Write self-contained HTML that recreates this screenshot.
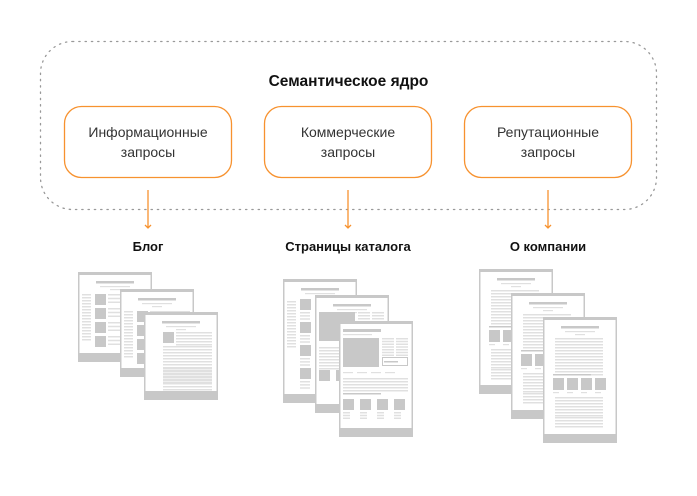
<!DOCTYPE html>
<html><head><meta charset="utf-8"><style>
html,body{margin:0;padding:0;background:#fff;}
body{width:697px;height:491px;overflow:hidden;}
text{font-family:"Liberation Sans",sans-serif;}
</style></head><body>
<svg id="s" width="697" height="491" xmlns="http://www.w3.org/2000/svg">
<rect x="40.5" y="41.5" width="616" height="168" rx="32" fill="none" stroke="#999" stroke-width="1.3" stroke-dasharray="1.3 5" stroke-linecap="round"/>
<text x="348.5" y="86" text-anchor="middle" font-size="15.5" font-weight="bold" fill="#111">Семантическое ядро</text>
<g fill="#fff" stroke="#f7922f" stroke-width="1.3">
<rect x="64.5" y="106.5" width="167" height="71" rx="17"/>
<rect x="264.5" y="106.5" width="167" height="71" rx="17"/>
<rect x="464.5" y="106.5" width="167" height="71" rx="17"/>
</g>
<g font-size="14" fill="#333" text-anchor="middle">
<text x="148" y="137">Информационные</text><text x="148" y="157">запросы</text>
<text x="348" y="137">Коммерческие</text><text x="348" y="157">запросы</text>
<text x="548" y="137">Репутационные</text><text x="548" y="157">запросы</text>
</g>
<g stroke="#f7922f" stroke-width="1.3" fill="none">
<path d="M148 190V228M145 225L148 228L151 225"/>
<path d="M348 190V228M345 225L348 228L351 225"/>
<path d="M548 190V228M545 225L548 228L551 225"/>
</g>
<g font-size="13" font-weight="bold" fill="#111" text-anchor="middle">
<text x="148" y="251">Блог</text>
<text x="348" y="251">Страницы каталога</text>
<text x="548" y="251">О компании</text>
</g>
<g id="pages"></g>
</svg>
<script>
var g=document.getElementById('pages'),h='';
var G='#c8c8c8',L='#e0e0e0';
function R(x,y,w,hh,c){h+='<rect x="'+x+'" y="'+y+'" width="'+w+'" height="'+hh+'" fill="'+c+'"/>';}
function lines(x,y,w,n,step){step=step*1.25;for(var i=0;i<n*0.8;i++)R(x,y+i*step,w,1.5,L);}
function frame(x,y,w,hh){h+='<rect x="'+(x+0.75)+'" y="'+(y+0.75)+'" width="'+(w-1.5)+'" height="'+(hh-1.5)+'" fill="#fff" stroke="'+G+'" stroke-width="1.5"/>';R(x,y,w,3,G);R(x,y+hh-9,w,9,G);
 R(x+18,y+9,38,2.5,G);R(x+22,y+14,30,1.2,L);R(x+32,y+17,10,1.2,L);}
function blogList(x,y,w,hh){frame(x,y,w,hh);lines(x+4,y+22,9,20,2.4);for(var i=0;i<4;i++){R(x+17,y+22+i*14,11,11,G);lines(x+30,y+22+i*14,40,3,3);}}
function blogPost(x,y,w,hh){frame(x,y,w,hh);R(x+19,y+20,11,11,G);lines(x+32,y+20,36,6,2.4);lines(x+19,y+34,49,16,2.4);lines(x+19,y+56,49,10,2.4);}
function cat1(x,y,w,hh){frame(x,y,w,hh);lines(x+4,y+22,9,20,2.4);for(var i=0;i<4;i++){R(x+17,y+20+i*23,11,11,G);lines(x+17,y+33+i*23,10,3,2.5);}}
function cat2(x,y,w,hh){frame(x,y,w,hh);R(x+4,y+17,36,29,G);lines(x+43,y+17,12,6,2.4);lines(x+57,y+17,12,6,2.4);lines(x+4,y+52,60,10,2.4);R(x+4,y+75,11,11,G);R(x+21,y+75,11,11,G);}
function cat3(x,y,w,hh){h+='<rect x="'+(x+0.75)+'" y="'+(y+0.75)+'" width="'+(w-1.5)+'" height="'+(hh-1.5)+'" fill="#fff" stroke="'+G+'" stroke-width="1.5"/>';R(x,y,w,3,G);R(x,y+hh-9,w,9,G);
 R(x+4,y+8,38,3,G);R(x+4,y+13,29,1.2,L);R(x+4,y+17,36,29,G);lines(x+43,y+17,12,8,2.2);lines(x+57,y+17,12,8,2.2);
 h+='<rect x="'+(x+43.5)+'" y="'+(y+36.5)+'" width="25" height="8" fill="none" stroke="'+G+'"/>';R(x+45,y+40,14,1.5,G);
 for(var i=0;i<4;i++)R(x+4+i*14,y+51,10,1.2,L);lines(x+4,y+57,65,6,2.4);R(x+4,y+72,38,1.5,G);
 for(var i=0;i<4;i++){R(x+4+i*17,y+78,11,11,G);lines(x+4+i*17,y+91,7,3,2.2);}}
function about(x,y,w,hh){frame(x,y,w,hh);lines(x+12,y+21,48,6,2.4);lines(x+12,y+36,48,10,2.4);R(x+10,y+57,38,1.5,G);for(var i=0;i<4;i++){R(x+10+i*14,y+61,11,12,G);R(x+10+i*14,y+75,6,1.2,L);}lines(x+12,y+80,48,8,2.4);lines(x+12,y+100,48,5,2.4);}
blogList(78,272,74,90);blogList(120,289,74,88);blogPost(144,312,74,88);
cat1(283,279,74,124);cat2(315,295,74,118);cat3(339,321,74,116);
about(479,269,74,125);about(511,293,74,126);about(543,317,74,126);
g.innerHTML=h;
</script>
</body></html>
